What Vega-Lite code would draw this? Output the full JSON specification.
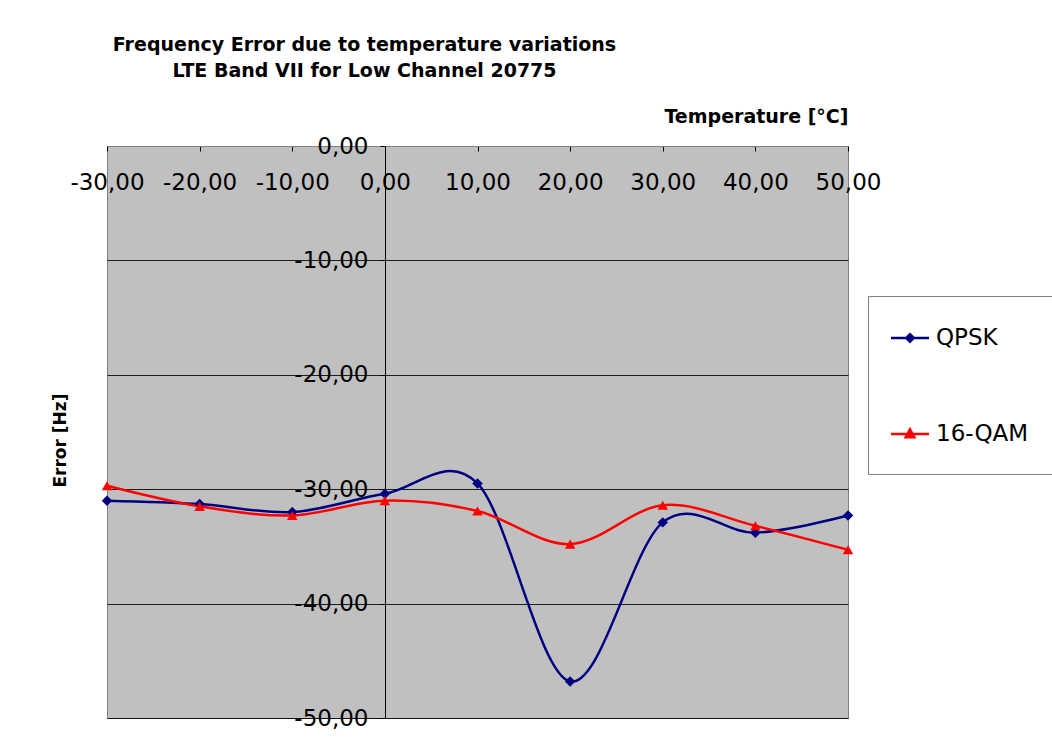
{
  "$schema": "https://vega.github.io/schema/vega-lite/v6.json",
  "width": 741,
  "height": 572,
  "autosize": {"type": "none"},
  "padding": {"left": 107, "top": 146, "right": 204, "bottom": 35},
  "background": "white",
  "title": {
    "text": ["Frequency Error due to temperature variations", "LTE Band VII for Low Channel 20775"],
    "font": "DejaVu Sans",
    "fontSize": 19,
    "fontWeight": "bold",
    "lineHeight": 26,
    "color": "#000000",
    "anchor": "middle",
    "frame": "group",
    "dx": -113,
    "dy": -22
  },
  "data": {
    "values": [
      {"t": -30, "series": "QPSK", "err": -31.0},
      {"t": -20, "series": "QPSK", "err": -31.3},
      {"t": -10, "series": "QPSK", "err": -32.0},
      {"t": 0, "series": "QPSK", "err": -30.4},
      {"t": 10, "series": "QPSK", "err": -29.5},
      {"t": 20, "series": "QPSK", "err": -46.8},
      {"t": 30, "series": "QPSK", "err": -32.9},
      {"t": 40, "series": "QPSK", "err": -33.8},
      {"t": 50, "series": "QPSK", "err": -32.3},
      {"t": -30, "series": "16-QAM", "err": -29.7},
      {"t": -20, "series": "16-QAM", "err": -31.5},
      {"t": -10, "series": "16-QAM", "err": -32.3},
      {"t": 0, "series": "16-QAM", "err": -31.0},
      {"t": 10, "series": "16-QAM", "err": -31.9},
      {"t": 20, "series": "16-QAM", "err": -34.8},
      {"t": 30, "series": "16-QAM", "err": -31.4},
      {"t": 40, "series": "16-QAM", "err": -33.2},
      {"t": 50, "series": "16-QAM", "err": -35.3}
    ]
  },
  "encoding": {
    "x": {
      "field": "t",
      "type": "quantitative",
      "scale": {"domain": [-30, 50], "nice": false, "zero": false},
      "axis": {
        "orient": "bottom",
        "offset": -572,
        "values": [-30, -20, -10, 0, 10, 20, 30, 40, 50],
        "labelExpr": "replace(replace(format(datum.value, '.2f'), '.', ','), '\u2212', '-')",
        "labelFont": "DejaVu Sans",
        "labelFontSize": 23,
        "labelColor": "#000000",
        "labelBaseline": "middle",
        "labelPadding": 31,
        "labelFlush": false,
        "labelOverlap": false,
        "labelBound": false,
        "tickSize": 5,
        "tickColor": "#000000",
        "domainColor": "#808080",
        "grid": false,
        "title": "Temperature [°C]",
        "titleX": 741,
        "titleY": -30,
        "titleAlign": "right",
        "titleBaseline": "middle",
        "titleAngle": 0,
        "titleFont": "DejaVu Sans",
        "titleFontSize": 19,
        "titleFontWeight": "bold",
        "titleColor": "#000000"
      }
    },
    "y": {
      "field": "err",
      "type": "quantitative",
      "scale": {"domain": [-50, 0], "nice": false, "zero": false},
      "axis": {
        "orient": "left",
        "offset": -278,
        "values": [-50, -40, -30, -20, -10, 0],
        "labelExpr": "replace(replace(format(datum.value, '.2f'), '.', ','), '\u2212', '-')",
        "labelFont": "DejaVu Sans",
        "labelFontSize": 23,
        "labelColor": "#000000",
        "labelBaseline": "middle",
        "labelPadding": 12,
        "labelFlush": false,
        "labelOverlap": false,
        "labelBound": false,
        "tickSize": 5,
        "tickColor": "#000000",
        "domainColor": "#000000",
        "grid": true,
        "gridColor": "#000000",
        "gridWidth": 1,
        "gridOpacity": 0.85,
        "title": "Error [Hz]",
        "titleX": -325,
        "titleY": 294,
        "titleAngle": 270,
        "titleAlign": "center",
        "titleBaseline": "middle",
        "titleFont": "DejaVu Sans",
        "titleFontSize": 17,
        "titleFontWeight": "bold",
        "titleColor": "#000000"
      }
    },
    "color": {
      "field": "series",
      "type": "nominal",
      "scale": {"domain": ["QPSK", "16-QAM"], "range": ["#000080", "#FF0000"]},
      "legend": {
        "title": null,
        "orient": "none",
        "legendX": 761,
        "legendY": 150,
        "fillColor": "#FFFFFF",
        "strokeColor": "#808080",
        "padding": 28,
        "rowPadding": 70,
        "symbolSize": 641,
        "symbolStrokeWidth": 2.5,
        "labelOffset": 12,
        "labelFont": "DejaVu Sans",
        "labelFontSize": 23,
        "labelColor": "#000000",
        "encode": {
          "symbols": {
            "update": {
              "shape": {"signal": "datum.value == 'QPSK' ? 'M-1.5,0H1.5M0,-0.3L0.3,0L0,0.3L-0.3,0Z' : 'M-1.5,0H1.5M0,-0.36L0.34,0.26L-0.34,0.26Z'"},
              "fill": {"scale": "color", "field": "value"},
              "stroke": {"scale": "color", "field": "value"},
              "strokeWidth": {"value": 2.5},
              "opacity": {"value": 1}
            }
          }
        }
      }
    }
  },
  "layer": [
    {
      "mark": {"type": "line", "interpolate": "cardinal", "strokeWidth": 2.5}
    },
    {
      "mark": {"type": "point", "filled": true, "size": 110, "opacity": 1},
      "encoding": {
        "shape": {
          "condition": {"test": "datum.series == 'QPSK'", "value": "diamond"},
          "value": "triangle-up"
        }
      }
    }
  ],
  "config": {
    "view": {"fill": "#C0C0C0", "stroke": "#808080", "strokeWidth": 1}
  }
}
